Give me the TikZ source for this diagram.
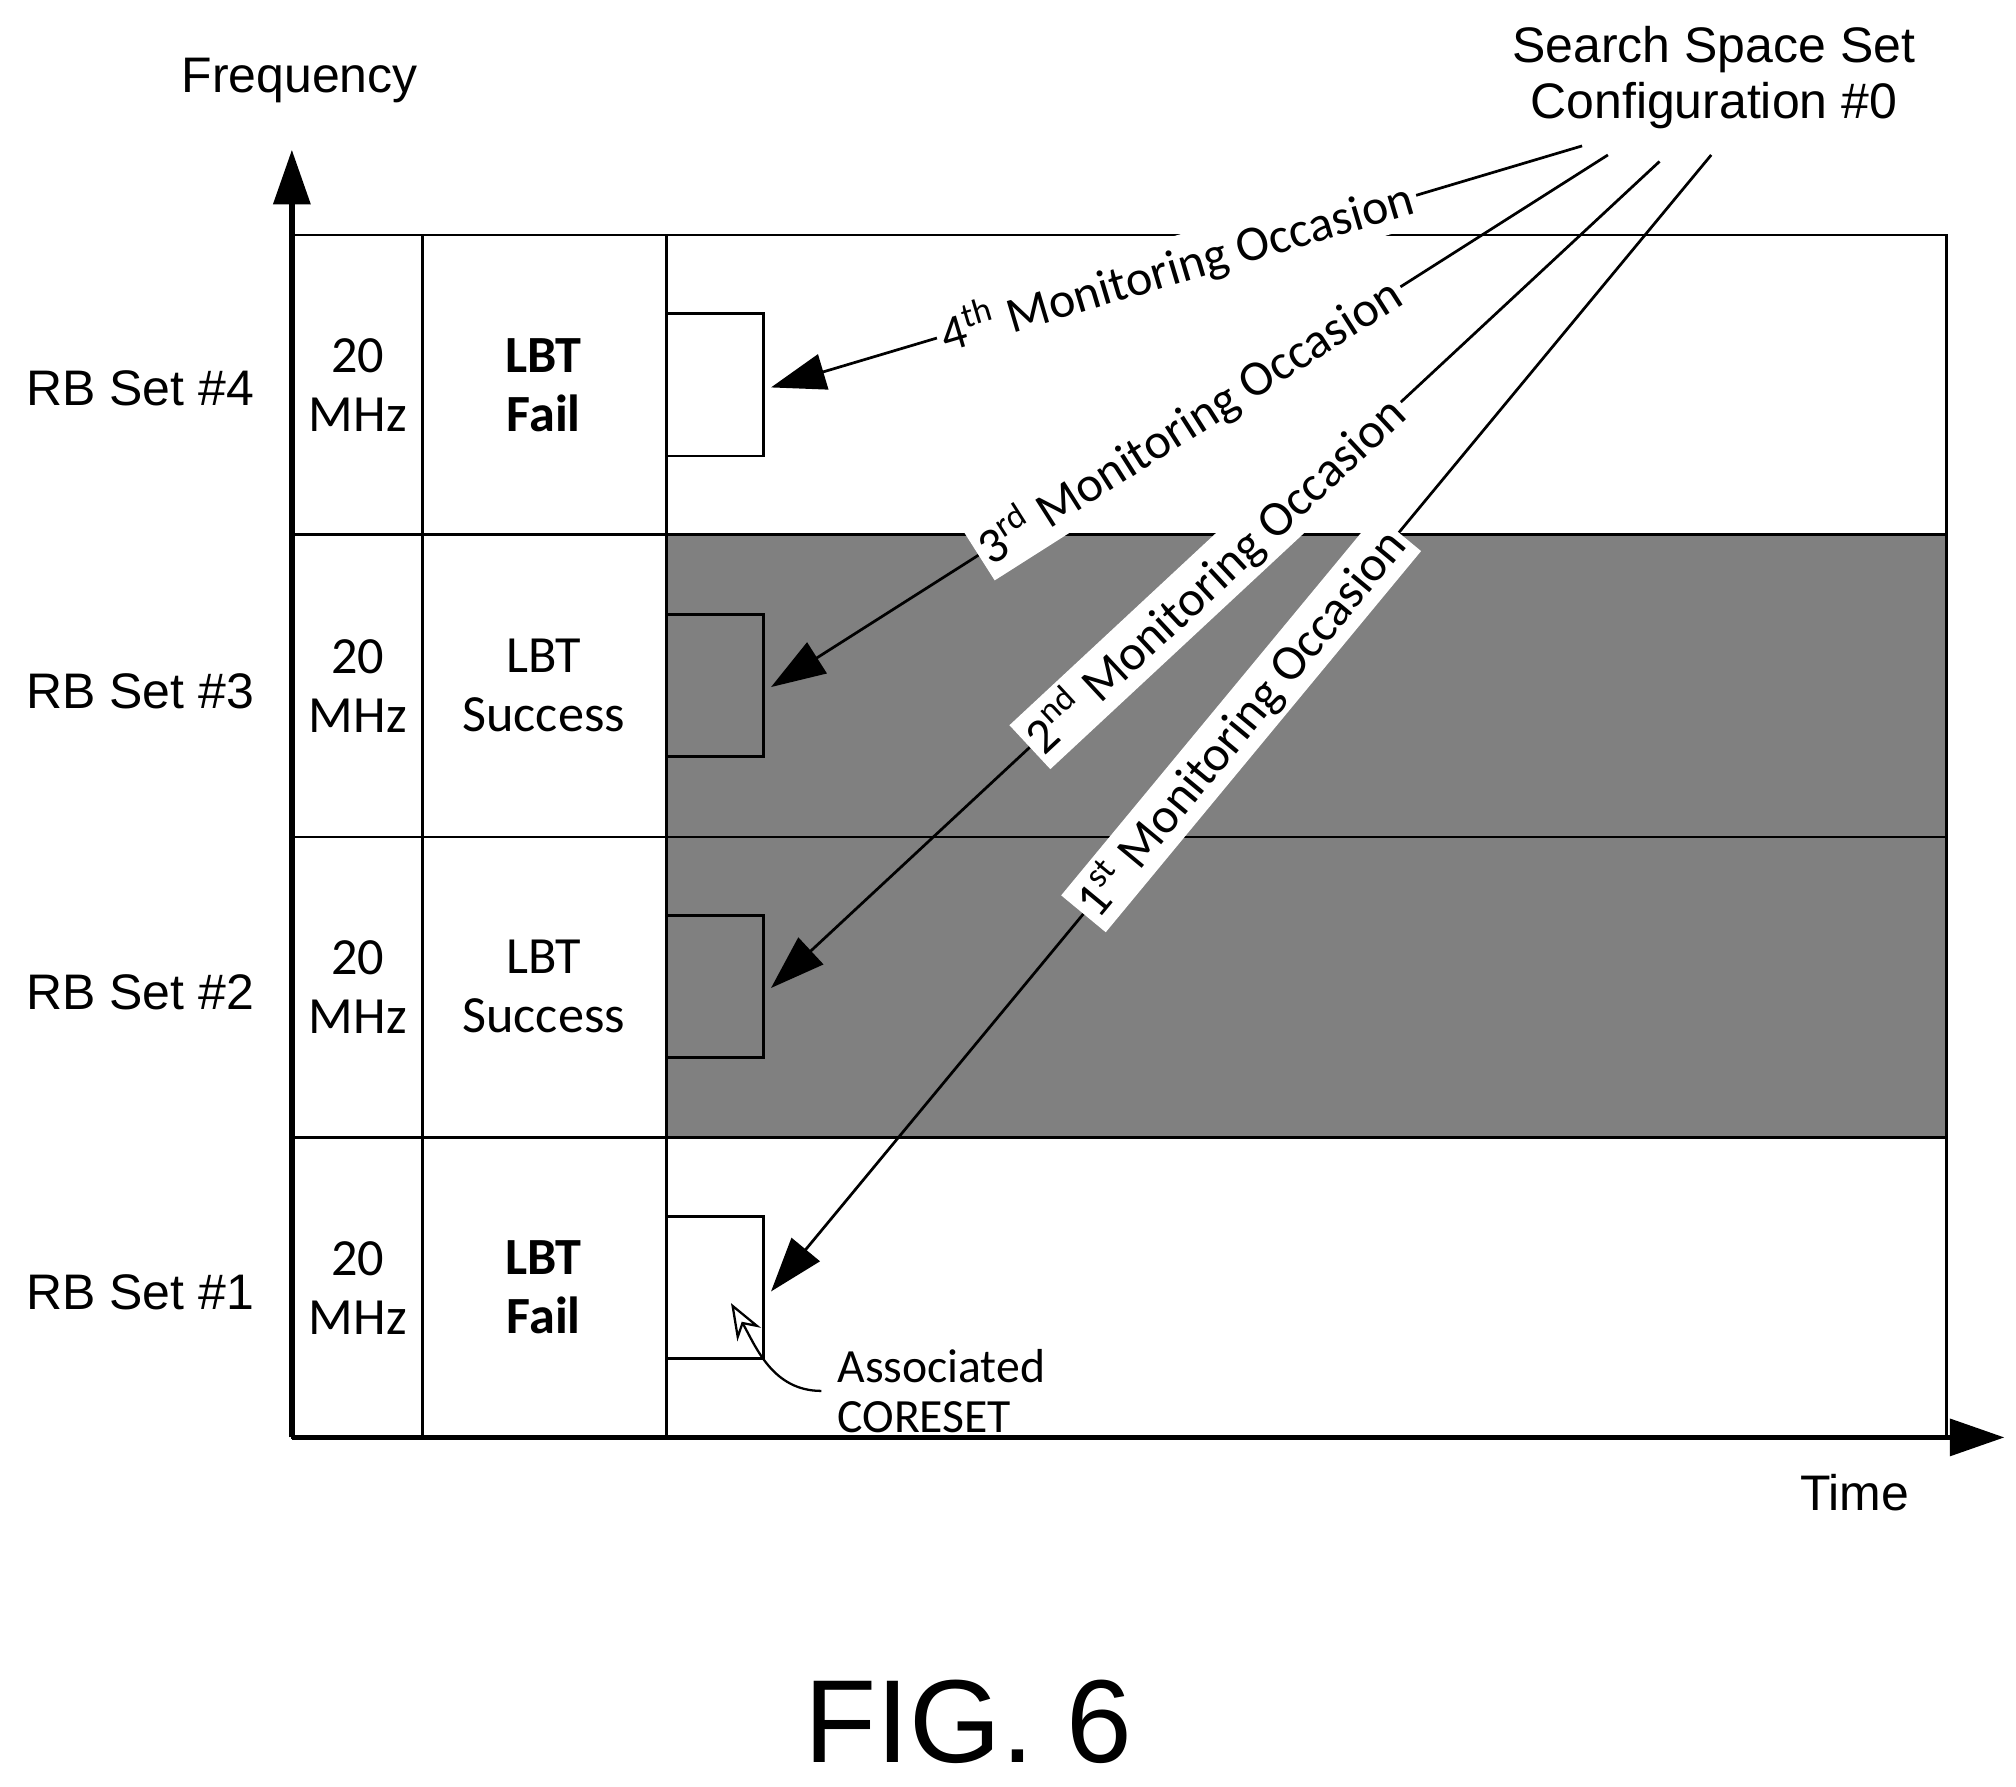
\documentclass[tikz,border=0pt]{standalone}
\usepackage{fontspec}
\setmainfont{Liberation Sans}
\newfontfamily\calfont{Carlito}
\usetikzlibrary{arrows.meta}
\begin{document}
\begin{tikzpicture}[x=0.01cm,y=-0.01cm,
  cell/.style={font=\calfont\fontsize{11.5}{13}\selectfont,align=center},
  lab/.style={font=\fontsize{11}{12.5}\selectfont},
  mo/.style={font=\calfont\fontsize{11}{13}\selectfont,fill=white,inner sep=1pt,sloped},
  arr/.style={-{Triangle[length=12pt,width=8pt]},line width=0.6pt}]
\useasboundingbox (0,0) rectangle (1561,1383);
\fill[fill=black!50] (516,414) rectangle (1507,881);
\draw[line width=0.6pt] (226,182) rectangle (1507,1113);
\foreach \y in {414,648,881} \draw[line width=0.6pt] (226,\y) -- (1507,\y);
\foreach \x in {327,516} \draw[line width=0.6pt] (\x,182) -- (\x,1113);
\draw[line width=0.6pt] (516,243) rectangle (591,353);
\draw[line width=0.6pt,fill=black!50] (516,476) rectangle (591,586);
\draw[line width=0.6pt,fill=black!50] (516,709) rectangle (591,819);
\draw[line width=0.6pt] (516,942) rectangle (591,1052);
\coordinate (o) at (226,1113);
\coordinate (fy) at (226,116);
\coordinate (tx) at (1552,1113);
\draw[arr,line width=1.2pt] (o) -- (fy);
\draw[arr,line width=1.2pt] (o) -- (tx);
\node[lab] (freq) at (232,62) {Frequency};
\node[lab] (time) at (1436,1156) {Time};
\foreach \n/\y in {4/301,3/535,2/768,1/1001}
  \node[lab,anchor=west] (rb\n) at (8,\y) {RB Set \#\n};
\foreach \n/\y in {4/298,3/531,2/764,1/997}
  \node[cell] (mhz\n) at (277,\y) {20\\MHz};
\node[cell] (l4) at (421,298) {\textbf{LBT}\\\textbf{Fail}};
\node[cell] (l3) at (421,531) {LBT\\Success};
\node[cell] (l2) at (421,764) {LBT\\Success};
\node[cell] (l1) at (421,997) {\textbf{LBT}\\\textbf{Fail}};
\node[lab,align=center] (ss) at (1327,60) {Search Space Set\\Configuration \#0};
\coordinate (s4) at (1225,113); \coordinate (s3) at (1245,120);
\coordinate (s2) at (1285,125); \coordinate (s1) at (1325,120);
\coordinate (b4) at (597,300); \coordinate (b3) at (597,532);
\coordinate (b2) at (597,765); \coordinate (b1) at (597,1000);
\draw[arr] (s4) -- node[mo,pos=0.5] {4\textsuperscript{th} Monitoring Occasion} (b4);
\draw[arr] (s3) -- node[mo,pos=0.5] {3\textsuperscript{rd} Monitoring Occasion} (b3);
\draw[arr] (s2) -- node[mo,pos=0.5] {2\textsuperscript{nd} Monitoring Occasion} (b2);
\draw[arr] (s1) -- node[mo,pos=0.5] {1\textsuperscript{st} Monitoring Occasion} (b1);
\node[font=\calfont\fontsize{10.5}{11}\selectfont,align=left,anchor=west] (ac) at (636,1077) {Associated\\CORESET};
\coordinate (acp) at (566,1009);
\draw[-{Stealth[length=8pt,width=6pt,open]},line width=0.5pt] (ac.west) to[out=180,in=-60] (acp);
\node[font=\fontsize{26}{30}\selectfont] (fig) at (750,1333) {FIG. 6};
\end{tikzpicture}
\end{document}
